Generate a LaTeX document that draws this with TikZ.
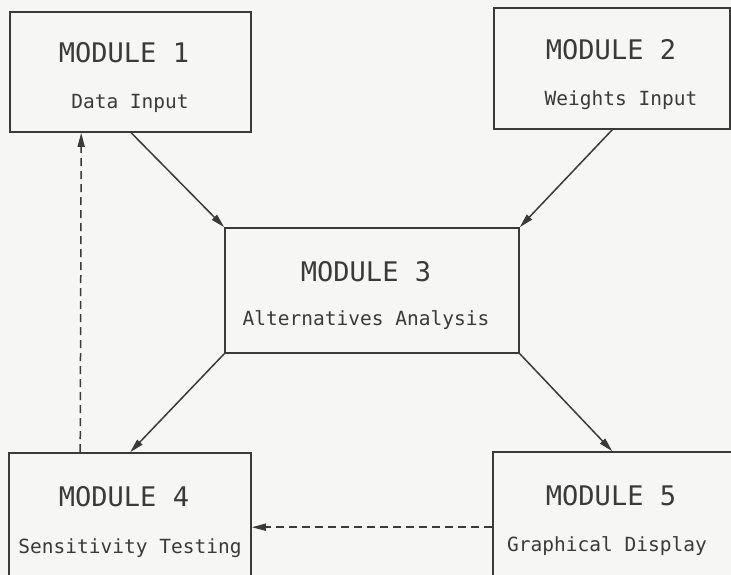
\documentclass[tikz,border=0pt]{standalone}
\usepackage{fontspec}
\newfontfamily\plotfont{DejaVu Sans Mono}
\usetikzlibrary{arrows.meta}
\definecolor{ink}{HTML}{3A3A3A}
\definecolor{paper}{HTML}{F6F6F4}
\tikzset{
  modbox/.style={draw=ink, line width=1.6pt, rectangle, inner sep=0pt, anchor=center},
  title/.style={text=ink, font=\plotfont\fontsize{27}{27}\selectfont, inner sep=0pt, anchor=center},
  sub/.style={text=ink, font=\plotfont\fontsize{19.5}{19.5}\selectfont, inner sep=0pt, anchor=center},
  arr/.style={draw=ink, line width=1.5pt, -{Triangle[length=14pt,width=7pt]}},
  darr/.style={arr, dash pattern=on 8pt off 5pt}
}
\begin{document}
\begin{tikzpicture}[x=1pt,y=-1pt]
\fill[paper] (0,0) rectangle (731,575);
\clip (0,0) rectangle (731,575);
% boxes
\node[modbox, minimum width=241pt, minimum height=120pt] (m1) at (130.5,72) {};
\node[modbox, minimum width=236pt, minimum height=121pt] (m2) at (612,68.5) {};
\node[modbox, minimum width=294pt, minimum height=125pt] (m3) at (372,290.5) {};
\node[modbox, minimum width=242pt, minimum height=170pt] (m4) at (130,538) {};
\node[modbox, minimum width=244pt, minimum height=170pt] (m5) at (615,537) {};
% texts
\node[title] (t1) at (124,53) {MODULE 1};
\node[sub] (s1) at (130,103) {Data Input};
\node[title] (t2) at (611,50) {MODULE 2};
\node[sub] (s2) at (621,100) {Weights Input};
\node[title] (t3) at (366,272) {MODULE 3};
\node[sub] (s3) at (366,320) {Alternatives Analysis};
\node[title] (t4) at (124,497) {MODULE 4};
\node[sub] (s4) at (130,548) {Sensitivity Testing};
\node[title] (t5) at (611,496) {MODULE 5};
\node[sub] (s5) at (607,546) {Graphical Display};
% connectors
\draw[arr] ([xshift=122pt]m1.south west) -- (m3.north west);
\draw[arr] ([xshift=119pt]m2.south west) -- (m3.north east);
\draw[arr] (m3.south west) -- ([xshift=122pt]m4.north west);
\draw[arr] (m3.south east) -- ([xshift=120pt]m5.north west);
\draw[darr] ([yshift=-76pt]m5.north west) -- ([yshift=-75pt]m4.north east);
\draw[darr] ([xshift=72pt]m4.north west) -- ([xshift=72pt]m1.south west);
\end{tikzpicture}
\end{document}
